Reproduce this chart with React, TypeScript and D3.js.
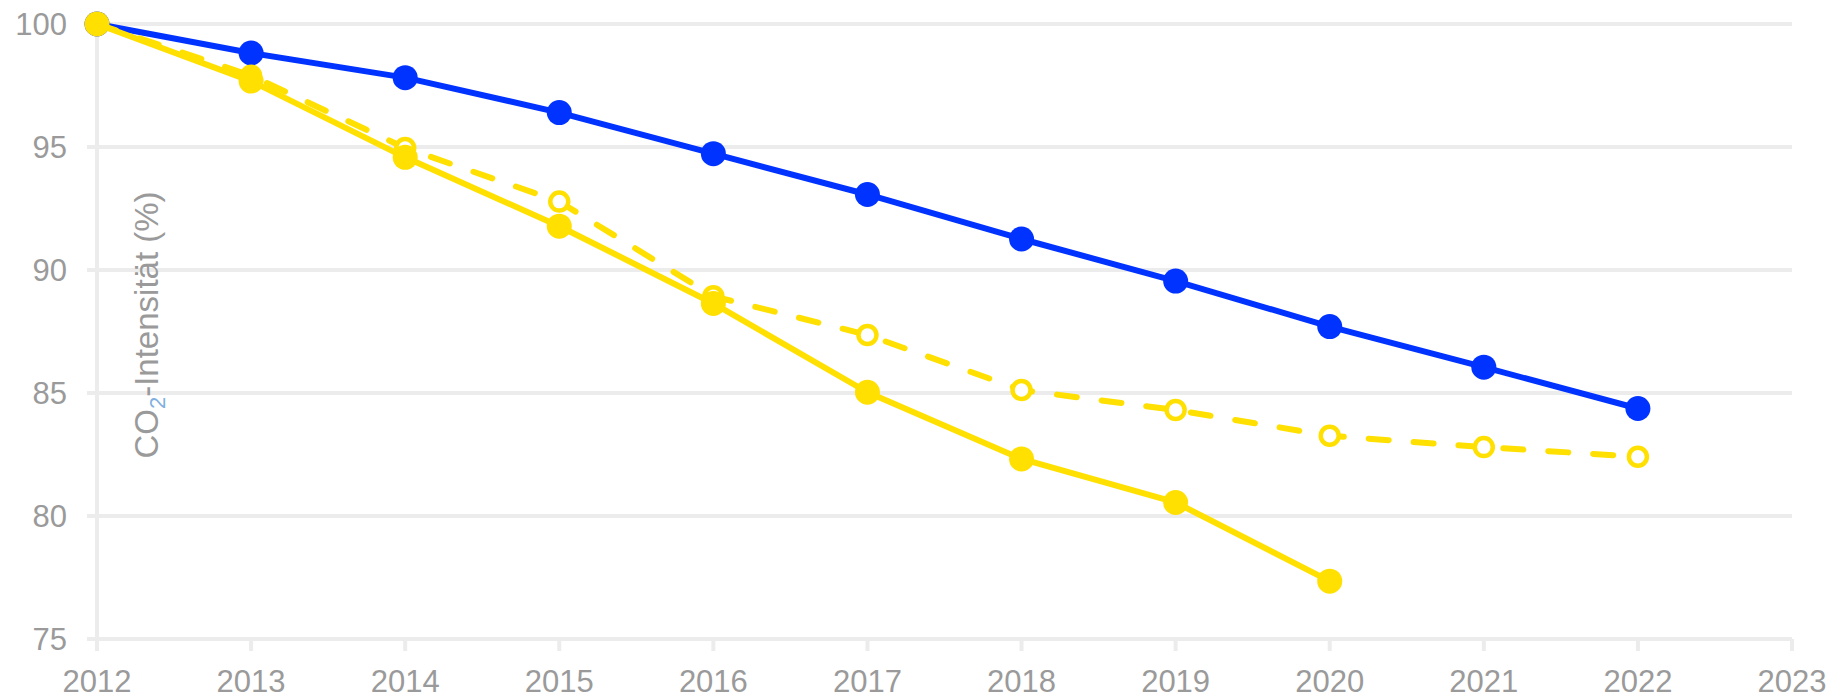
import * as d3 from "d3";

// x axis years and y ticks
const years = [2012, 2013, 2014, 2015, 2016, 2017, 2018, 2019, 2020, 2021, 2022, 2023];
const yTicks = [75, 80, 85, 90, 95, 100];

// CO2 intensity, indexed to 2012 = 100
const blueYears = [2012, 2013, 2014, 2015, 2016, 2017, 2018, 2019, 2020, 2021, 2022];
const blueValues = [100, 98.82, 97.82, 96.4, 94.73, 93.07, 91.26, 89.55, 87.7, 86.05, 84.37];

const yellowYears = [2012, 2013, 2014, 2015, 2016, 2017, 2018, 2019, 2020];
const yellowValues = [100, 97.68, 94.58, 91.78, 88.64, 85.03, 82.32, 80.55, 77.35];

const dashedYears = [2012, 2013, 2014, 2015, 2016, 2017, 2018, 2019, 2020, 2021, 2022];
const dashedValues = [100, 97.9, 94.96, 92.78, 88.93, 87.36, 85.12, 84.31, 83.26, 82.8, 82.41];

const BLUE = "#0033ff";
const YELLOW = "#ffe000";
const GRID = "#ececec";
const TEXT = "#9a9a9a";
const FONT = "'Liberation Sans', Arial, Helvetica, sans-serif";

type Pt = { x: number; y: number };

const zip = (xs: number[], ys: number[]): Pt[] => xs.map((x, i) => ({ x, y: ys[i] }));

export default function App() {
  const width = 1835;
  const height = 699;
  const left = 97;
  const right = 1792;
  const top = 24;
  const bottom = 639;

  const x = d3.scaleLinear().domain([2012, 2023]).range([left, right]);
  const y = d3.scaleLinear().domain([75, 100]).range([bottom, top]);

  const line = d3
    .line<Pt>()
    .x((d) => x(d.x))
    .y((d) => y(d.y));

  const blue = zip(blueYears, blueValues);
  const solid = zip(yellowYears, yellowValues);
  const dashed = zip(dashedYears, dashedValues);

  return (
    <div style={{ position: "fixed", left: 0, top: 0 }}>
      <svg width={width} height={height} style={{ display: "block", background: "#fff" }}>
        {/* grid */}
        {yTicks.map((t) => (
          <line key={t} x1={left - 10} x2={right} y1={y(t)} y2={y(t)} stroke={GRID} strokeWidth={4} />
        ))}
        <line x1={left} x2={left} y1={top} y2={bottom + 12} stroke={GRID} strokeWidth={4} />
        {years.map((yr) => (
          <line key={yr} x1={x(yr)} x2={x(yr)} y1={bottom} y2={bottom + 12} stroke={GRID} strokeWidth={4} />
        ))}

        {/* tick labels */}
        {yTicks.map((t) => (
          <text
            key={t}
            x={67}
            y={y(t)}
            dy="0.36em"
            textAnchor="end"
            fontFamily={FONT}
            fontSize={31}
            fill={TEXT}
          >
            {t}
          </text>
        ))}
        {years.map((yr) => (
          <text key={yr} x={x(yr)} y={692} textAnchor="middle" fontFamily={FONT} fontSize={31} fill={TEXT}>
            {yr}
          </text>
        ))}

        {/* axis title */}
        <text
          transform={`translate(158,325) rotate(-90)`}
          textAnchor="middle"
          fontFamily={FONT}
          fontSize={33}
          fill={TEXT}
        >
          CO
          <tspan fontSize={22} dy={7} fill="#7fb0e0">
            2
          </tspan>
          <tspan dy={-7}>-Intensität (%)</tspan>
        </text>

        {/* blue series */}
        <path d={line(blue) ?? ""} fill="none" stroke={BLUE} strokeWidth={6} strokeLinejoin="round" />
        {blue.map((d) => (
          <circle key={d.x} cx={x(d.x)} cy={y(d.y)} r={12.5} fill={BLUE} />
        ))}

        {/* dashed yellow */}
        <path
          d={line(dashed) ?? ""}
          fill="none"
          stroke={YELLOW}
          strokeWidth={6}
          strokeDasharray="20 25"
          strokeLinecap="round"
        />
        {dashed.slice(1).map((d) => (
          <circle key={d.x} cx={x(d.x)} cy={y(d.y)} r={9} fill="#fff" stroke={YELLOW} strokeWidth={4.5} />
        ))}

        {/* solid yellow */}
        <path d={line(solid) ?? ""} fill="none" stroke={YELLOW} strokeWidth={6} strokeLinejoin="round" />
        {solid.map((d) => (
          <circle key={d.x} cx={x(d.x)} cy={y(d.y)} r={12.5} fill={YELLOW} />
        ))}
      </svg>
    </div>
  );
}
